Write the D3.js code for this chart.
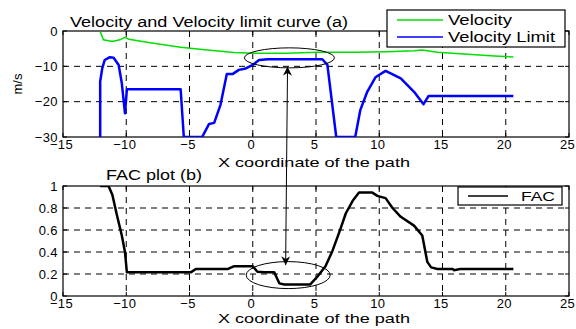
<!DOCTYPE html>
<html>
<head>
<meta charset="utf-8">
<script src="https://cdn.jsdelivr.net/npm/d3@7"></script>
<style>
  body { margin: 0; background: #fff; }
  svg text { font-family: "Liberation Sans", Arial, sans-serif; fill: #000; }
</style>
</head>
<body>
<svg id="chart" width="576" height="329"></svg>
<script>
// velocity (green)
var velX = [-12.06, -11.8, -11.1, -10.5, -10.1, -9.8, -8.1, -5.7, -3.6, -1.5, 0, 2.7, 5.1, 8, 10.6, 12.75, 13.4, 14.6, 17, 19.1, 20.6];
var velY = [-0.2, -2.5, -3.0, -2.5, -1.8, -2.35, -3.3, -4.6, -5.4, -6.1, -6.3, -6.3, -6.0, -6.0, -5.85, -5.6, -5.4, -6.0, -6.6, -7.1, -7.35];

// velocity limit (blue)
var limX = [-12.06, -12.06, -11.9, -11.7, -11.3, -11.0, -10.6, -10.35, -10.1, -9.95, -5.7, -5.45, -4.0, -3.45, -3.05, -2.55, -2.05, -1.6, -1.1, -0.55, 0, 0.5, 1.2, 5.5, 5.9, 6.6, 8.1, 8.5, 9.05, 9.7, 10.5, 11.7, 12.75, 13.5, 13.9, 20.6];
var limY = [-30, -14.3, -10.6, -8.2, -7.4, -7.55, -9.6, -14.8, -23.3, -16.5, -16.5, -30, -30, -26.3, -26, -20.9, -12.2, -12.2, -11.0, -10.6, -9.6, -8.2, -8.0, -8.0, -9.6, -30, -30, -22.4, -17.2, -13.1, -11.3, -13.4, -17.2, -20.7, -18.4, -18.4];

// FAC (black)
var facX = [-12.06, -11.4, -11.1, -10.75, -10.35, -10.1, -9.95, -4.9, -4.5, -2.0, -1.5, 0, 0.37, 0.9, 1.7, 2.1, 2.5, 4.55, 5.1, 5.75, 6.3, 6.95, 7.35, 7.9, 8.4, 9.45, 9.85, 10.5, 11.05, 11.7, 12.75, 13.4, 13.8, 14.1, 14.6, 15.8, 15.9, 16.4, 20.6];
var facY = [1.0, 1.0, 0.92, 0.74, 0.55, 0.40, 0.215, 0.215, 0.245, 0.245, 0.27, 0.27, 0.22, 0.215, 0.215, 0.115, 0.105, 0.105, 0.175, 0.27, 0.41, 0.615, 0.75, 0.865, 0.94, 0.94, 0.91, 0.89, 0.80, 0.72, 0.64, 0.55, 0.31, 0.26, 0.245, 0.245, 0.235, 0.245, 0.245];

var xTicks = [-15, -10, -5, 0, 5, 10, 15, 20, 25];
var yTicksTop = [-30, -20, -10, 0];
var yTicksBot = [0, 0.2, 0.4, 0.6, 0.8, 1];

var svg = d3.select("#chart");

var x = d3.scaleLinear().domain([-15, 25]).range([63, 569]);
var yTop = d3.scaleLinear().domain([-30, 0]).range([137, 31]);
var yBot = d3.scaleLinear().domain([0, 1]).range([296, 186]);

function drawPanel(id, y, yTicks, yFmt) {
    var g = svg.append("g");
    var x0 = x.range()[0], x1 = x.range()[1];
    var y0 = y.range()[0], y1 = y.range()[1];

    svg.append("clipPath").attr("id", id)
      .append("rect").attr("x", x0).attr("y", y1).attr("width", x1 - x0).attr("height", y0 - y1);

    // dashed grid
    g.selectAll(".vgrid").data(xTicks.slice(1, -1)).enter().append("line")
        .attr("x1", function(d) { return x(d); }).attr("x2", function(d) { return x(d); })
        .attr("y1", y1).attr("y2", y0)
        .attr("stroke", "#000").attr("stroke-width", 1).attr("stroke-dasharray", "6,5");
    g.selectAll(".hgrid").data(yTicks.slice(1, -1)).enter().append("line")
        .attr("x1", x0).attr("x2", x1)
        .attr("y1", function(d) { return y(d); }).attr("y2", function(d) { return y(d); })
        .attr("stroke", "#000").attr("stroke-width", 1).attr("stroke-dasharray", "6,5");

    // axes, ticks inward like matlab
    var ax = g.append("g").attr("transform", "translate(-2," + y0 + ")")
        .call(d3.axisBottom(x).tickValues(xTicks).tickSizeInner(0).tickSizeOuter(0).tickPadding(3));
    var ay = g.append("g").attr("transform", "translate(" + x0 + ",0)")
        .call(d3.axisLeft(y).tickValues(yTicks).tickFormat(yFmt).tickSizeInner(0).tickSizeOuter(0).tickPadding(5));
    [ax, ay].forEach(function(a) {
        a.select(".domain").remove();
        a.selectAll("text").style("font-size", "13px").style("letter-spacing", "0.4px")
            .style("font-family", "Liberation Sans, Arial").attr("fill", "#000");
        a.selectAll("line").remove();
    });

    // inward ticks on all four sides
    var tl = g.append("g").attr("stroke", "#000");
    xTicks.forEach(function(d) {
        tl.append("line").attr("x1", x(d)).attr("x2", x(d)).attr("y1", y1).attr("y2", y1 + 4);
        tl.append("line").attr("x1", x(d)).attr("x2", x(d)).attr("y1", y0).attr("y2", y0 - 4);
    });
    yTicks.forEach(function(d) {
        tl.append("line").attr("x1", x0).attr("x2", x0 + 4).attr("y1", y(d)).attr("y2", y(d));
        tl.append("line").attr("x1", x1).attr("x2", x1 - 4).attr("y1", y(d)).attr("y2", y(d));
    });

    g.append("rect").attr("x", x0).attr("y", y1).attr("width", x1 - x0).attr("height", y0 - y1)
        .attr("fill", "none").attr("stroke", "#000").attr("stroke-width", 1.2);
    return g;
}

function series(xs, ys, y) {
    return d3.line().x(function(d) { return x(d); }).y(function(d, i) { return y(ys[i]); })(xs);
}

drawPanel("clipTop", yTop, yTicksTop, d3.format("d"));
drawPanel("clipBot", yBot, yTicksBot, function(d) { return d === 0 || d === 1 ? d : d3.format(".1f")(d); });

svg.append("path").attr("d", series(velX, velY, yTop)).attr("clip-path", "url(#clipTop)")
    .attr("fill", "none").attr("stroke", "#00e000").attr("stroke-width", 1.5);
svg.append("path").attr("d", series(limX, limY, yTop)).attr("clip-path", "url(#clipTop)")
    .attr("fill", "none").attr("stroke", "#0000ff").attr("stroke-width", 2.5).attr("stroke-linejoin", "round");
svg.append("path").attr("d", series(facX, facY, yBot)).attr("clip-path", "url(#clipBot)")
    .attr("fill", "none").attr("stroke", "#000").attr("stroke-width", 2.5).attr("stroke-linejoin", "round");

// titles and labels (text in the picture is stretched sideways, so fix widths)
function label(tx, ty, str, fs, len, anchor) {
    return svg.append("text").attr("x", tx).attr("y", ty).attr("text-anchor", anchor || "start")
        .style("font-size", fs).attr("textLength", len).attr("lengthAdjust", "spacingAndGlyphs").text(str);
}
label(70, 27, "Velocity and Velocity limit curve (a)", "14px", 278);
label(106, 180, "FAC plot (b)", "14px", 96);
label(218, 167, "X coordinate of the path", "13.5px", 192);
label(218, 323, "X coordinate of the path", "13.5px", 192);
svg.append("text").attr("transform", "translate(22,84) rotate(-90)").attr("text-anchor", "middle")
    .style("font-size", "13px").text("m/s");

// legends
function legend(bx, by, bw, bh, items) {
    var g = svg.append("g");
    g.append("rect").attr("x", bx).attr("y", by).attr("width", bw).attr("height", bh)
        .attr("fill", "#fff").attr("stroke", "#000").attr("stroke-width", 1.2);
    items.forEach(function(it) {
        g.append("line").attr("x1", it.x1).attr("x2", it.x2).attr("y1", it.y).attr("y2", it.y)
            .attr("stroke", it.color).attr("stroke-width", it.w);
        label(it.tx, it.y + 5, it.label, it.fs, it.len);
    });
}
legend(387, 10, 178, 37, [
    {label: "Velocity", color: "#00e000", w: 1.3, x1: 397, x2: 443, tx: 448, y: 20, fs: "14px", len: 64},
    {label: "Velocity Limit", color: "#0000ff", w: 1.3, x1: 397, x2: 443, tx: 448, y: 37, fs: "14px", len: 107}
]);
legend(458, 187, 104, 18, [
    {label: "FAC", color: "#000", w: 1.3, x1: 468, x2: 508, tx: 521, y: 196, fs: "12px", len: 34}
]);

// annotations: ellipses and double arrow
svg.append("ellipse").attr("cx", x(2.9)).attr("cy", yTop(-7.6)).attr("rx", 45).attr("ry", 10)
    .attr("fill", "none").attr("stroke", "#000").attr("stroke-width", 1);
svg.append("ellipse").attr("cx", x(2.8)).attr("cy", yBot(0.19)).attr("rx", 42).attr("ry", 13.5)
    .attr("fill", "none").attr("stroke", "#000").attr("stroke-width", 1);

var defs = svg.append("defs");
defs.append("marker").attr("id", "ah").attr("viewBox", "0 0 10 10").attr("refX", 10).attr("refY", 5)
    .attr("markerWidth", 9).attr("markerHeight", 9).attr("markerUnits", "userSpaceOnUse").attr("orient", "auto-start-reverse")
  .append("path").attr("d", "M0,0 L10,5 L0,10 L3,5 Z").attr("fill", "#000");
svg.append("line").attr("x1", x(2.75)).attr("y1", yTop(-10.1)).attr("x2", x(2.6)).attr("y2", yBot(0.28))
    .attr("stroke", "#000").attr("stroke-width", 1)
    .attr("marker-start", "url(#ah)").attr("marker-end", "url(#ah)");
</script>
</body>
</html>
